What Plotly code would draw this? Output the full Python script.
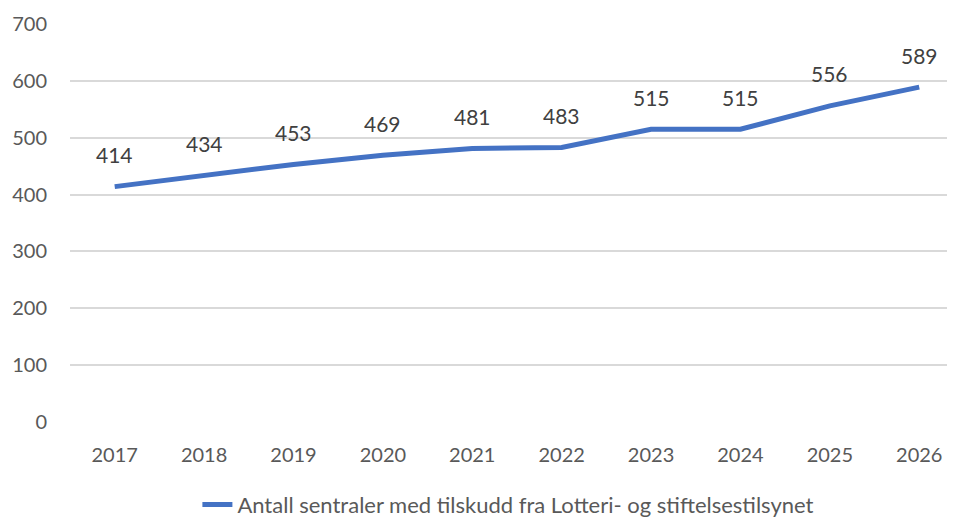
import plotly.graph_objects as go

years = ["2017", "2018", "2019", "2020", "2021", "2022", "2023", "2024", "2025", "2026"]
values = [414, 434, 453, 469, 481, 483, 515, 515, 556, 589]
series_name = "Antall sentraler med tilskudd fra Lotteri- og stiftelsestilsynet"
y_ticks = [0, 100, 200, 300, 400, 500, 600, 700]

FONT = "Lato, Open Sans, sans-serif"

fig = go.Figure()
fig.add_trace(go.Scatter(
    x=list(range(len(years))), y=values, mode="lines", name=series_name,
    line=dict(color="#4472C4", width=5), hoverinfo="skip",
))
for i, v in enumerate(values):
    fig.add_annotation(x=i, y=v, text=str(v), showarrow=False, yshift=32,
                       font=dict(family=FONT, size=21, color="#404040"))

# page body has an 8px default margin, so the figure is offset by 8px
fig.update_layout(
    width=947, height=510,
    margin=dict(l=62, r=0, t=16, b=96, autoexpand=False),
    paper_bgcolor="white", plot_bgcolor="white",
    showlegend=True,
    legend=dict(orientation="h", x=0.2, xanchor="left", xref="container",
                y=0.026, yanchor="middle", yref="container",
                font=dict(family=FONT, size=22, color="#595959"), itemwidth=30),
    xaxis=dict(range=[-0.5, 9.4], tickmode="array", tickvals=list(range(len(years))),
               ticktext=years, showgrid=False, zeroline=False, showline=False, automargin=False,
               tickfont=dict(family=FONT, size=20, color="#595959"), ticks="", ticklabelstandoff=19),
    yaxis=dict(range=[0, 700], tickvals=y_ticks, showgrid=True, gridcolor="#D9D9D9", gridwidth=1.5,
               zeroline=False, showline=False, automargin=False,
               tickfont=dict(family=FONT, size=20, color="#595959"), ticks="", ticklabelstandoff=22),
)
fig.write_html("out.html")
